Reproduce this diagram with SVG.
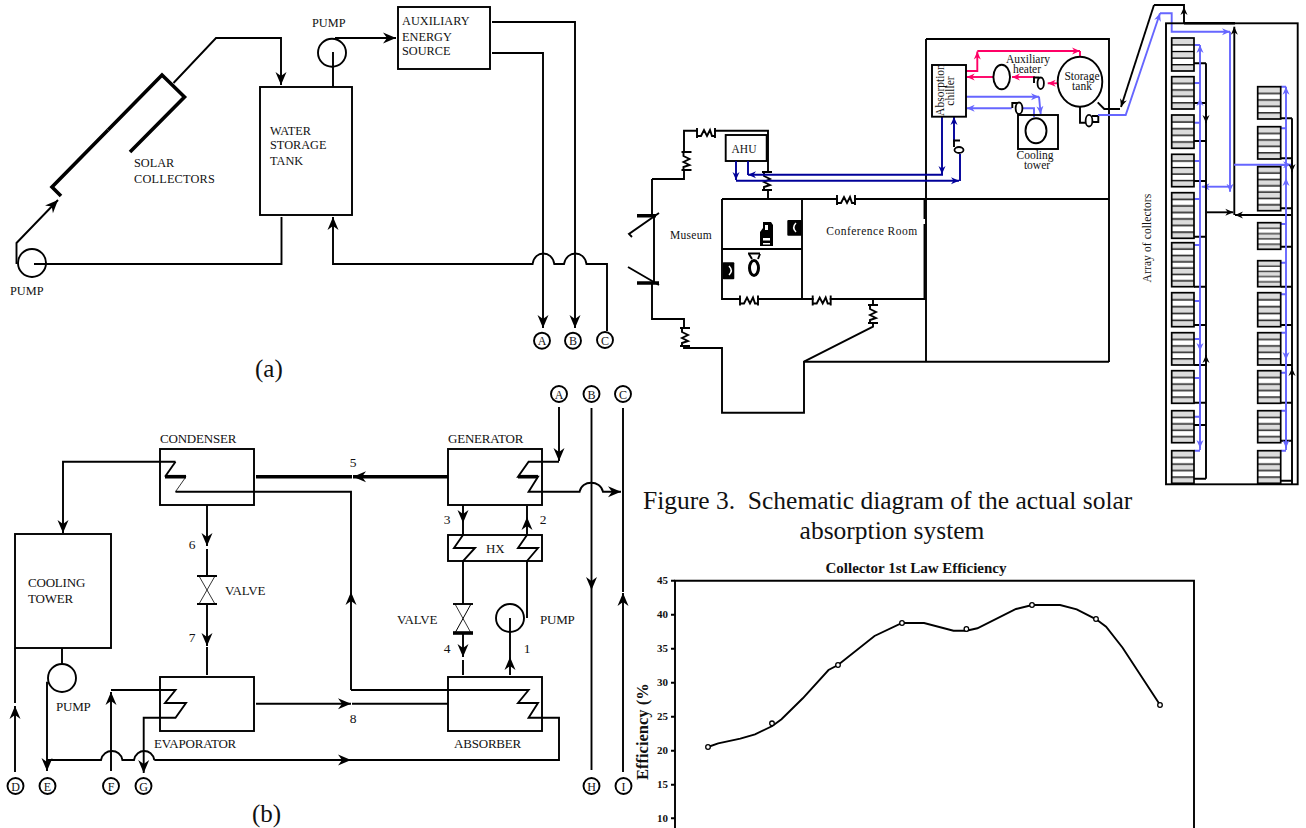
<svg xmlns="http://www.w3.org/2000/svg" width="1306" height="828" viewBox="0 0 1306 828">
<style>
text{font-family:"Liberation Serif","Times New Roman",serif;fill:#111}
.l{fill:none;stroke:#000;stroke-width:1.9}
.t{stroke-width:3.6}
.th{stroke-width:.8}
.bx{fill:#fff;stroke:#000;stroke-width:1.8}
.nf{fill:none;stroke:#000;stroke-width:1.9}
.a{font-size:12.300px}
.b{font-size:13px;letter-spacing:-.2px}
.c{font-size:12px;text-anchor:middle}
.n{font-size:13.500px;text-anchor:middle}
.s{font-size:11.500px;text-anchor:middle}
.cap{font-size:25.500px}
.tk{font-size:11px;font-weight:bold;text-anchor:end}
.nv{fill:none;stroke:#000099;stroke-width:1.9}
.pk{fill:none;stroke:#ff0066;stroke-width:1.9}
.bl{fill:none;stroke:#6666ff;stroke-width:1.9}
.p5{fill:url(#s5);stroke:#000;stroke-width:1.7}
.p7{fill:url(#s7);stroke:#000;stroke-width:1.7}
</style>
<defs>
<marker id="k" markerUnits="userSpaceOnUse" markerWidth="16" markerHeight="14" refX="14" refY="7" orient="auto"><path d="M14,7L1,1.500L5,7L1,12.500Z" fill="#000"/></marker>
<marker id="kn" markerUnits="userSpaceOnUse" markerWidth="10" markerHeight="10" refX="8" refY="5" orient="auto"><path d="M8,5L0,1.500L2.500,5L0,8.500Z" fill="#000099"/></marker>
<marker id="kp" markerUnits="userSpaceOnUse" markerWidth="10" markerHeight="10" refX="8" refY="5" orient="auto"><path d="M8,5L0,1.500L2.500,5L0,8.500Z" fill="#ff0066"/></marker>
<marker id="kb" markerUnits="userSpaceOnUse" markerWidth="10" markerHeight="10" refX="8" refY="5" orient="auto"><path d="M8,5L0,1.500L2.500,5L0,8.500Z" fill="#6666ff"/></marker>
<marker id="ks" markerUnits="userSpaceOnUse" markerWidth="10" markerHeight="10" refX="8" refY="5" orient="auto"><path d="M8,5L0,1.500L2.500,5L0,8.500Z" fill="#000"/></marker>
<pattern id="s5" width="1" height="1" patternContentUnits="objectBoundingBox">
<rect width="1" height="1" fill="#dcdcdc"/><rect y=".2" width="1" height=".2" fill="#fff"/><rect y=".6" width="1" height=".2" fill="#fff"/>
<rect y=".19" width="1" height=".04" fill="#000"/><rect y=".39" width="1" height=".04" fill="#000"/><rect y=".59" width="1" height=".04" fill="#000"/><rect y=".79" width="1" height=".04" fill="#000"/>
</pattern>
<pattern id="s7" width="1" height="1" patternContentUnits="objectBoundingBox">
<rect width="1" height="1" fill="#dcdcdc"/><rect y=".143" width="1" height=".143" fill="#fff"/><rect y=".429" width="1" height=".143" fill="#fff"/><rect y=".715" width="1" height=".143" fill="#fff"/>
<rect y=".13" width="1" height=".03" fill="#000"/><rect y=".275" width="1" height=".03" fill="#000"/><rect y=".42" width="1" height=".03" fill="#000"/><rect y=".56" width="1" height=".03" fill="#000"/><rect y=".705" width="1" height=".03" fill="#000"/><rect y=".85" width="1" height=".03" fill="#000"/>
</pattern>
<g id="sq"><rect x="-8" y="-4" width="16" height="8" fill="#fff"/><path class="l" d="M-9,-5V5M9,-5V5M-9,3H-5L-2,-3L1,3L4,-3L6,3H9"/></g>
</defs>

<g id="connectors-a">
<path class="l t" d="M61,196L52,187L108,130"/>
<path class="l t" d="M108,130L162,75L184.500,97L130,152"/>
<path class="l" d="M173.500,83L216,38H281V85" marker-end="url(#k)"/>
<path class="l" d="M333,87V52"/>
<path class="l" d="M335,38H396" marker-end="url(#k)"/>
<path class="l" d="M492,22H575V328" marker-end="url(#k)"/>
<path class="l" d="M492,53H543V328" marker-end="url(#k)"/>
<path class="l" d="M607,331V264H586.500c-2,-14 -20,-14 -22.500,0H554.300c-2,-14 -20,-14 -21.700,0H333V217" marker-end="url(#k)"/>
<path class="l" d="M281.500,217V264H34"/>
<path class="l" d="M16.500,264V243L58,200" marker-end="url(#k)"/>
</g>
<g id="solar-collectors"><text class="a" x="134" y="167">SOLAR</text><text class="a" x="134" y="183" letter-spacing=".2">COLLECTORS</text></g>
<g id="aux-source"><rect class="nf" x="398" y="7" width="92" height="62"/><text class="a" x="402" y="25">AUXILIARY</text><text class="a" x="402" y="41">ENERGY</text><text class="a" x="402" y="55">SOURCE</text></g>
<g id="water-tank"><rect class="nf" x="260" y="87" width="92" height="128"/><text class="a" x="270" y="135">WATER</text><text class="a" x="270" y="149">STORAGE</text><text class="a" x="270" y="165">TANK</text></g>
<g id="pump-a1"><circle class="nf" cx="332" cy="52.700" r="14"/><text class="a" x="312" y="27">PUMP</text></g>
<g id="pump-a2"><circle class="nf" cx="32" cy="263" r="14"/><text class="a" x="10" y="295">PUMP</text></g>
<g id="a-A"><circle class="nf" cx="542" cy="340.700" r="8"/><text class="c" x="542" y="345">A</text></g>
<g id="a-B"><circle class="nf" cx="573" cy="340.700" r="8"/><text class="c" x="573" y="345">B</text></g>
<g id="a-C"><circle class="nf" cx="605" cy="340" r="8"/><text class="c" x="605" y="344.500">C</text></g>
<text x="255" y="377" style="font-size:25px">(a)</text>

<g id="connectors-b">
<path class="l" d="M559,407V461" marker-end="url(#k)"/>
<path class="l" d="M559,461.700H528.600L518,476.700H538L528.600,491.700H579.600c2,-12 21,-12 23.400,0H621" marker-end="url(#k)"/>
<path class="l t" d="M518,476.700H538"/>
<path class="l" d="M591.500,408V590" marker-end="url(#k)"/><path class="l" d="M591.500,590V770"/>
<path class="l" d="M623,408V592"/><path class="l" d="M623,772V593" marker-end="url(#k)"/>
<path class="l t" d="M448,476.700H353" marker-end="url(#k)"/>
<path class="l t" d="M352,476.700H256"/>
<path class="l" d="M175.500,461.700H63V533" marker-end="url(#k)"/>
<path class="l" d="M175.500,461.700L165,476.700"/>
<path class="l t" d="M165,476.700H186"/>
<path class="l th" d="M186,476.700L175.500,491.700"/>
<path class="l" d="M175.500,491.700H351V592"/>
<path class="l" d="M351,690V592" marker-end="url(#k)"/>
<path class="l" d="M351,690H528.600L518,703H538L528.600,717.700H559V760H351"/>
<path class="l" d="M154.300,760c-2,-12 -18,-12 -20.300,0H122.400c-2,-12 -19,-12 -21.400,0H47"/>
<path class="l" d="M154.300,760H351" marker-end="url(#k)"/>
<path class="l" d="M207,505V546" marker-end="url(#k)"/>
<path class="l" d="M207,549V576M207,604V646" marker-end="url(#k)"/>
<path class="l" d="M207,647V675"/>
<path class="l" d="M197,576H217M197,604H217"/><path class="l th" d="M199,576L215,604M215,576L199,604"/>
<path class="l" d="M463,505V523" marker-end="url(#k)"/>
<path class="l" d="M463,523V535L454,548H475L463,561V604"/>
<path class="l" d="M527,618V561L538,548H518L527,535V517" marker-end="url(#k)"/>
<path class="l" d="M527,517V506"/>
<path class="l" d="M453,604H473"/><path class="l t" d="M453,633H473"/><path class="l th" d="M455,604L471,633"/><path class="l" d="M471,604L455,633" style="stroke-width:1"/>
<path class="l" d="M463,633V657" marker-end="url(#k)"/>
<path class="l" d="M463,660V675"/>
<path class="l" d="M510,675V657" marker-end="url(#k)"/>
<path class="l" d="M510,657V618"/>
<path class="l" d="M62,648V664"/>
<path class="l" d="M47,681.700V771" marker-end="url(#k)"/>
<path class="l" d="M15,648V703"/><path class="l" d="M15,772V706" marker-end="url(#k)"/>
<path class="l" d="M111,771V692" marker-end="url(#k)"/>
<path class="l" d="M111,690H175.500L165,703H186L175.500,717.700H143.700V773" marker-end="url(#k)"/>
<path class="l" d="M256,703.700H351" marker-end="url(#k)"/>
<path class="l" d="M352,703.700H448"/>
</g>
<g id="condenser"><rect class="nf" x="160" y="449" width="94" height="56"/><text class="b" x="160" y="443">CONDENSER</text></g>
<g id="generator"><rect class="nf" x="448" y="449" width="94" height="56"/><text class="b" x="448" y="443">GENERATOR</text></g>
<g id="hx"><rect class="nf" x="448" y="535" width="94" height="26"/><text class="b" x="486" y="553">HX</text></g>
<g id="evaporator"><rect class="nf" x="160" y="677" width="94" height="54"/><text class="b" x="154" y="748">EVAPORATOR</text></g>
<g id="absorber"><rect class="nf" x="448" y="677" width="94" height="54"/><text class="b" x="454" y="748">ABSORBER</text></g>
<g id="cooling-tower"><rect class="nf" x="15" y="534" width="96" height="114"/><text class="b" x="28" y="587">COOLING</text><text class="b" x="28" y="603">TOWER</text></g>
<g id="pump-b1"><circle class="nf" cx="62" cy="678" r="14"/><text class="b" x="56" y="711">PUMP</text></g>
<g id="pump-b2"><circle class="nf" cx="510" cy="618" r="14"/><text class="b" x="540" y="624">PUMP</text></g>
<text class="b" x="225" y="595">VALVE</text><text class="b" x="397" y="624">VALVE</text>
<g id="numbers"><text class="n" x="353" y="467">5</text><text class="n" x="192" y="549">6</text><text class="n" x="192" y="642">7</text><text class="n" x="353" y="723">8</text><text class="n" x="447" y="524">3</text><text class="n" x="543" y="524">2</text><text class="n" x="447" y="653">4</text><text class="n" x="527" y="653">1</text></g>
<g id="b-A"><circle class="nf" cx="559" cy="394" r="8"/><text class="c" x="559" y="398.500">A</text></g>
<g id="b-B"><circle class="nf" cx="591.500" cy="394" r="8"/><text class="c" x="591.500" y="398.500">B</text></g>
<g id="b-C"><circle class="nf" cx="623" cy="394" r="8"/><text class="c" x="623" y="398.500">C</text></g>
<g id="b-D"><circle class="nf" cx="15.500" cy="786" r="8"/><text class="c" x="15.500" y="790.500">D</text></g>
<g id="b-E"><circle class="nf" cx="47.500" cy="786" r="8"/><text class="c" x="47.500" y="790.500">E</text></g>
<g id="b-F"><circle class="nf" cx="111" cy="786" r="8"/><text class="c" x="111" y="790.500">F</text></g>
<g id="b-G"><circle class="nf" cx="143.500" cy="786" r="8"/><text class="c" x="143.500" y="790.500">G</text></g>
<g id="b-H"><circle class="nf" cx="591.500" cy="786" r="8"/><text class="c" x="591.500" y="790.500">H</text></g>
<g id="b-I"><circle class="nf" cx="623.500" cy="786" r="8"/><text class="c" x="623.500" y="790.500">I</text></g>
<text x="252" y="822" style="font-size:25px">(b)</text>

<g id="building">
<path class="l" d="M652,179H684V130.700H768V199M722,199H1109M722,199V299H926M802,199V299M722,249H802M924.500,199V219M924.500,224V299"/>
<path class="l" d="M926,39H1109V362M926,39V362M804,361.700H1109"/>
<path class="l" d="M652,179V215.700M654,214V283M652,283V319H684V348H722V412.700H804V361.700L873,326.700V299"/>
<path class="l t" d="M637,215.700H656M637,283H659"/>
<path class="l" d="M659,213L629,234L632,237M628,267L659,285"/>
<use href="#sq" transform="translate(706,133)"/>
<use href="#sq" transform="translate(686.500,161) rotate(90)"/>
<use href="#sq" transform="translate(767,181) rotate(90)"/>
<use href="#sq" transform="translate(846,200)"/>
<use href="#sq" transform="translate(749,300.500)"/>
<use href="#sq" transform="translate(821.700,300.500)"/>
<use href="#sq" transform="translate(873,314) rotate(90)"/>
<use href="#sq" transform="translate(685,337) rotate(90)"/>
<rect x="787.300" y="220" width="14.400" height="15.700" rx="1"/><path d="M796,223c-3,3 -3,6 0,9" fill="none" stroke="#fff" stroke-width="1.500"/>
<rect x="722.700" y="262.300" width="11.600" height="17" rx="1"/><path d="M729,266c3,3 3,6 0,9" fill="none" stroke="#fff" stroke-width="1.500"/>
<path d="M763,222H771L773,225V246H760V232L763,228Z"/><rect x="763" y="238" width="7" height="2.500" fill="#fff"/><rect x="763" y="243" width="7" height="1.500" fill="#fff"/><rect x="765" y="225" width="3" height="5" fill="#fff"/>
<path class="l" d="M748,253.500H760" style="stroke-width:2"/><path class="l" d="M749,254L752,259M760,254L758,259"/><ellipse cx="754" cy="268" rx="4.500" ry="7.500" fill="#fff" stroke="#000" stroke-width="3"/>
<text class="s" x="691" y="239" letter-spacing=".3">Museum</text>
<text class="s" x="872" y="235" letter-spacing=".5">Conference Room</text>
</g>
<g id="ahu"><rect class="nf" x="725.700" y="135" width="41" height="26"/><text class="s" x="744" y="153">AHU</text></g>

<g id="connectors-right">
<path class="nv" d="M736,161V180" marker-end="url(#kn)"/>
<path class="nv" d="M736,180.700H959" marker-end="url(#kn)"/>
<path class="nv" d="M960,181V154"/>
<path class="nv" d="M954,142V117" marker-end="url(#kn)"/>
<path class="nv" d="M942,116V174" marker-end="url(#kn)"/>
<path class="nv" d="M943,174.700H748" marker-end="url(#kn)"/>
<path class="nv" d="M748,161V175"/>
<path class="l" d="M954,147V140.500H960"/><ellipse class="bx" cx="959" cy="150" rx="4.500" ry="3"/>
<path class="pk" d="M966,71H977.300V51.500" marker-end="url(#kp)"/>
<path class="pk" d="M977.300,51H1080" marker-end="url(#kp)"/>
<path class="pk" d="M1080,51V57"/>
<path class="pk" d="M994,77H966.700" marker-end="url(#kp)"/>
<path class="pk" d="M1035,77H1012" marker-end="url(#kp)"/>
<path class="pk" d="M1058,83.300H1047.700" marker-end="url(#kp)"/>
<path class="bl" d="M966,96.700H1039" marker-end="url(#kb)"/>
<path class="bl" d="M1039,96.700L1040.700,114" marker-end="url(#kb)"/>
<path class="bl" d="M1011.700,108.300H966.700" marker-end="url(#kb)"/>
<path class="bl" d="M1021.700,108.300H1034V117"/>
<path class="l" d="M1097.700,102.300L1104.300,109H1120"/>
<path class="l" d="M1154,5L1121,107" marker-end="url(#ks)"/>
<path class="l" d="M1154,5H1184V7"/><path class="l" d="M1184,23V7" marker-end="url(#ks)"/>
<path class="l t" d="M1184,23.300H1235" style="stroke-width:2.400"/>
<path class="l" d="M1080,107V122.700H1086M1092,116H1098.300V122H1092"/>
<path class="bl" d="M1098,115H1125.700L1160,13.300" marker-end="url(#kb)"/>
<path class="bl" d="M1160,13.300H1171.700V31.700H1230" marker-end="url(#kb)"/>
<path class="bl" d="M1230,31.700V191.700" marker-end="url(#kb)"/>
<path class="bl" d="M1230,186.700H1201.700" marker-end="url(#kb)"/>
<path class="l" d="M1234.300,215V26.700" marker-end="url(#ks)"/>
<path class="l" d="M1206.700,212.300H1233.300" marker-end="url(#ks)"/>
<path class="l" d="M1291,215H1235" marker-end="url(#ks)"/>
<path class="bl" d="M1234,164.700H1291" marker-end="url(#kb)"/>
<path class="l" d="M1206,63.300H1194M1206,103H1194M1206,141H1194M1206,181H1194M1206,236.700H1194M1206,286.700H1194M1206,325H1194M1206,365H1194M1206,402.700H1194M1206,425H1194M1206,478.700H1194M1206,63.300V478.700"/>
<path class="l" d="M1206,110V123" marker-end="url(#ks)"/><path class="l" d="M1206,366V355" marker-end="url(#ks)"/>
<path class="bl" d="M1194,45H1200M1194,83H1200M1194,122.700H1200M1194,161H1200M1194,199H1200M1194,245H1200M1194,301H1200M1194,339H1200M1194,378H1200M1194,416.700H1200M1194,450.700H1200"/>
<path class="bl" d="M1200,450V98" marker-end="url(#kb)"/><path class="bl" d="M1200,98V45" marker-end="url(#kb)"/>
<path class="bl" d="M1200,300V351" marker-end="url(#kb)"/><path class="bl" d="M1200,351V448" marker-end="url(#kb)"/>
<path class="l" d="M1292,118.300H1280.700M1292,158.300H1280.700M1292,208.300H1280.700M1292,246.700H1280.700M1292,286.700H1280.700M1292,325H1280.700M1292,365H1280.700M1292,402.700H1280.700M1292,440.700H1280.700M1292,480.700H1280.700M1292,118.300V484"/>
<path class="l" d="M1292,160V172" marker-end="url(#ks)"/><path class="l" d="M1292,380V368" marker-end="url(#ks)"/>
<path class="bl" d="M1280.700,86.700H1286M1280.700,128.300H1286M1280.700,165H1286M1280.700,224H1286M1280.700,262.700H1286M1280.700,294.300H1286M1280.700,332.700H1286M1280.700,372.700H1286M1280.700,410.700H1286M1280.700,450.700H1286"/>
<path class="bl" d="M1286,450V178" marker-end="url(#kb)"/><path class="bl" d="M1286,178V86.700" marker-end="url(#kb)"/>
<path class="bl" d="M1286,300V360" marker-end="url(#kb)"/><path class="bl" d="M1286,360V448" marker-end="url(#kb)"/>
</g>
<g id="chiller"><rect class="nf" x="932" y="65" width="34" height="51.700"/><text class="s" transform="translate(944,90) rotate(-90)">Absorption</text><text class="s" transform="translate(954,91) rotate(-90)">chiller</text></g>
<g id="aux-heater"><ellipse class="nf" cx="1001.700" cy="77" rx="8.300" ry="12.300"/><text class="s" x="1028" y="63">Auxiliary</text><text class="s" x="1027" y="73">heater</text></g>
<g id="storage-tank"><ellipse class="nf" cx="1080" cy="81.700" rx="22.300" ry="25"/><text class="s" x="1082" y="80">Storage</text><text class="s" x="1082" y="90">tank</text></g>
<g id="cooling-right"><rect class="nf" x="1018" y="115" width="40" height="34"/><ellipse class="nf" cx="1036" cy="130.700" rx="10.500" ry="12.500"/><text class="s" x="1035" y="159">Cooling</text><text class="s" x="1037" y="169">tower</text></g>
<g id="pumps-right">
<path class="nf" d="M1034,83V77.500H1038.500V83"/><ellipse class="bx" cx="1040.700" cy="83.300" rx="3.200" ry="5.800"/>
<path class="nf" d="M1012.300,108V103H1017V108"/><ellipse class="bx" cx="1019" cy="108.300" rx="3.400" ry="5.800"/>
<ellipse class="bx" cx="1089" cy="120.700" rx="3.400" ry="5.800"/>
</g>
<g id="array">
<rect class="nf" x="1166" y="23.300" width="131.700" height="461"/>
<text class="s" transform="translate(1150.500,238) rotate(-90)" letter-spacing=".1">Array of collectors</text>
<rect class="p5" x="1171.700" y="38" width="22.300" height="33"/><rect class="p5" x="1171.700" y="76.700" width="22.300" height="32.300"/><rect class="p5" x="1171.700" y="115" width="22.300" height="33.300"/><rect class="p5" x="1171.700" y="154.300" width="22.300" height="32.400"/><rect class="p7" x="1171.700" y="192.700" width="22.300" height="45.600"/><rect class="p7" x="1171.700" y="242.700" width="22.300" height="44"/><rect class="p5" x="1171.700" y="292.700" width="22.300" height="34"/><rect class="p5" x="1171.700" y="332.700" width="22.300" height="32.300"/><rect class="p5" x="1171.700" y="370.700" width="22.300" height="32.600"/><rect class="p5" x="1171.700" y="410.700" width="22.300" height="32"/><rect class="p5" x="1171.700" y="450.700" width="22.300" height="32.600"/>
<rect class="p5" x="1257.700" y="86.700" width="23" height="32.300"/><rect class="p5" x="1257.700" y="126.700" width="23" height="32.300"/><rect class="p7" x="1257.700" y="166.700" width="23" height="44"/><rect class="p5" x="1257.700" y="222.700" width="23" height="26.600"/><rect class="p5" x="1257.700" y="260.700" width="23" height="26"/><rect class="p5" x="1257.700" y="292.700" width="23" height="34"/><rect class="p5" x="1257.700" y="332.700" width="23" height="32.300"/><rect class="p5" x="1257.700" y="370.700" width="23" height="32.600"/><rect class="p5" x="1257.700" y="410.700" width="23" height="32"/><rect class="p5" x="1257.700" y="450.700" width="23" height="32.600"/>
</g>

<g id="caption"><text class="cap" x="643" y="509" xml:space="preserve">Figure 3.  Schematic diagram of the actual solar</text><text class="cap" x="892" y="539" text-anchor="middle">absorption system</text></g>
<g id="chart">
<path class="l" d="M675,828V580.700H1194V828"/>
<path class="l" d="M671,580.700H675M671,614.700H675M671,648.700H675M671,682.700H675M671,716.700H675M671,750.700H675M671,784.700H675M671,818.300H675"/>
<text x="916" y="573" text-anchor="middle" style="font-size:15px;font-weight:bold">Collector 1st Law Efficiency</text>
<text class="tk" x="668" y="584">45</text><text class="tk" x="668" y="618">40</text><text class="tk" x="668" y="652">35</text><text class="tk" x="668" y="686">30</text><text class="tk" x="668" y="720">25</text><text class="tk" x="668" y="754">20</text><text class="tk" x="668" y="788">15</text><text class="tk" x="668" y="822">10</text>
<text transform="translate(648,780) rotate(-90)" style="font-size:16.500px;font-weight:bold">Efficiency (%</text>
<path class="l" d="M707.900,747L718.200,743.300L740.300,738.700L755,734.300L772.300,726L781.500,719.300L802.800,698.300L828.500,670L838,665L874.500,636L902,623L924.100,623L953.500,630.700L966.400,630.700L977.400,628.300L1016,609L1032.200,605L1060.100,605L1076.700,609.300L1096.200,619.300L1106.100,626.700L1122.600,647.700L1160.100,705"/>
<g fill="#fff" stroke="#000" stroke-width="1.300"><circle cx="708" cy="747" r="2.300"/><circle cx="772" cy="723.300" r="2.300"/><circle cx="838" cy="665" r="2.300"/><circle cx="902" cy="623" r="2.300"/><circle cx="966.400" cy="629" r="2.300"/><circle cx="1032" cy="605" r="2.300"/><circle cx="1096" cy="619" r="2.300"/><circle cx="1160" cy="705" r="2.300"/></g>
</g>
</svg>
